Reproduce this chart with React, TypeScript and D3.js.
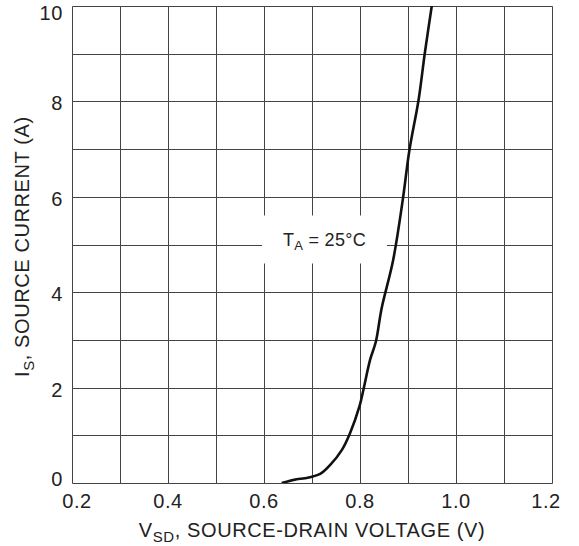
import * as d3 from 'd3';
import React from 'react';

// Source-drain diode forward characteristic
const vsd = [0.637, 0.668, 0.685, 0.717, 0.738, 0.762, 0.779, 0.799, 0.807, 0.821, 0.833, 0.845, 0.869, 0.889, 0.903, 0.922, 0.935, 0.951];
const isrc = [0, 0.08, 0.1, 0.19, 0.38, 0.69, 1.04, 1.61, 1.95, 2.58, 2.96, 3.66, 4.67, 5.93, 6.98, 8.03, 9.01, 10.1];

const xTicks = [0.2, 0.4, 0.6, 0.8, 1.0, 1.2];
const yTicks = [0, 2, 4, 6, 8, 10];
const xGrid = d3.range(0, 11).map((i) => 0.2 + i * 0.1);
const yGrid = d3.range(0, 11);

const W = 579;
const H = 546;
const margin = { top: 6, right: 27, bottom: 63, left: 72 };
const font = 'Liberation Sans, Arial, sans-serif';
const gridColor = '#444';
const textColor = '#222';

const App: React.FC = () => {
  const x = d3.scaleLinear().domain([0.2, 1.2]).range([margin.left, W - margin.right]);
  const y = d3.scaleLinear().domain([0, 10]).range([H - margin.bottom, margin.top]);
  const px = (v: number) => Math.round(x(v)) + 0.5;
  const py = (v: number) => Math.round(y(v)) + 0.5;

  const points = vsd.map((v, i) => ({ v, i: isrc[i] }));
  const line = d3
    .line<{ v: number; i: number }>()
    .x((d) => x(d.v))
    .y((d) => y(d.i))
    .curve(d3.curveCatmullRom.alpha(0.5));

  const boxCx = x(0.726);
  const boxCy = y(5) - 5;

  return (
    <svg
      width={W}
      height={H}
      style={{ position: 'absolute', left: 0, top: 0, background: '#fff' }}
      fontFamily={font}
    >
      <defs>
        <clipPath id="plot">
          <rect x={x(0.2)} y={y(10)} width={x(1.2) - x(0.2)} height={y(0) - y(10)} />
        </clipPath>
      </defs>

      {/* grid */}
      <g stroke={gridColor} strokeWidth={1}>
        {xGrid.map((v) => (
          <line key={'vx' + v} x1={px(v)} x2={px(v)} y1={py(0)} y2={py(10)} />
        ))}
        {yGrid.map((v) => (
          <line key={'hy' + v} x1={px(0.2)} x2={px(1.2)} y1={py(v)} y2={py(v)} />
        ))}
      </g>

      {/* annotation box */}
      <rect x={boxCx - 62.5} y={boxCy - 24} width={125} height={48} fill="#fff" />
      <text x={boxCx} y={boxCy + 6} textAnchor="middle" fontSize={18} fill={textColor} letterSpacing={0.3}>
        T<tspan dy={4} fontSize={13}>A</tspan>
        <tspan dy={-4}> = 25°C</tspan>
      </text>

      <path
        d={line(points) ?? ''}
        fill="none"
        stroke="#111"
        strokeWidth={2.6}
        clipPath="url(#plot)"
      />

      {/* tick labels */}
      <g fontSize={20} fill={textColor} letterSpacing={0.6}>
        {xTicks.map((t, k) => {
          const shift = k === 0 ? 5 : k === xTicks.length - 1 ? -6 : 0;
          return (
            <text key={'xt' + t} x={x(t) + shift} y={y(0) + 25} textAnchor="middle">
              {d3.format('.1f')(t)}
            </text>
          );
        })}
        {yTicks.map((t, k) => {
          const shift = k === 0 ? -4 : k === yTicks.length - 1 ? 7 : 2;
          return (
            <text key={'yt' + t} x={63} y={y(t) + shift} textAnchor="end" dy="0.35em">
              {t}
            </text>
          );
        })}
      </g>

      {/* axis titles */}
      <g fontSize={20} fill={textColor} letterSpacing={0.6}>
        <text x={(x(0.2) + x(1.2)) / 2} y={537} textAnchor="middle">
          V<tspan dy={5} fontSize={15}>SD</tspan>
          <tspan dy={-5}>, SOURCE-DRAIN VOLTAGE (V)</tspan>
        </text>
        <text transform="rotate(-90)" x={-377} y={29} textAnchor="start">
          I<tspan dy={5} fontSize={15}>S</tspan>
          <tspan dy={-5}>, SOURCE CURRENT (A)</tspan>
        </text>
      </g>
    </svg>
  );
};

export default App;
